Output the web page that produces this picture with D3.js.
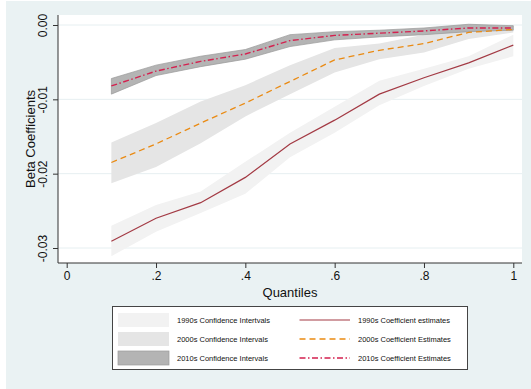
<!DOCTYPE html>
<html>
<head>
<meta charset="utf-8">
<script src="https://cdn.jsdelivr.net/npm/d3@7"></script>
<style>
  html, body { margin: 0; padding: 0; background: #fff; }
  svg { display: block; font-family: "Liberation Sans", Arial, sans-serif; }
</style>
</head>
<body>
<svg id="chart" width="531" height="389"></svg>
<script>
// quantiles
const quantiles = [0.1, 0.2, 0.3, 0.4, 0.5, 0.6, 0.7, 0.8, 0.9, 1.0];

// 1990s
const est1990 = [-0.0291, -0.0260, -0.0239, -0.0205, -0.0160, -0.0128, -0.0093, -0.0071, -0.0051, -0.0027];
const hi1990  = [-0.0270, -0.0242, -0.0224, -0.0184, -0.0145, -0.0110, -0.0075, -0.0059, -0.0042, -0.0013];
const lo1990  = [-0.0311, -0.0278, -0.0253, -0.0227, -0.0178, -0.0145, -0.0108, -0.0082, -0.0059, -0.0042];

// 2000s
const est2000 = [-0.0185, -0.0160, -0.0132, -0.0105, -0.0076, -0.0047, -0.0034, -0.0025, -0.0010, -0.0006];
const hi2000  = [-0.0158, -0.0132, -0.0103, -0.0081, -0.0054, -0.0031, -0.0025, -0.0013, -0.0002, 0.0000];
const lo2000  = [-0.0213, -0.0191, -0.0159, -0.0123, -0.0093, -0.0064, -0.0046, -0.0037, -0.0019, -0.0010];

// 2010s
const est2010 = [-0.0082, -0.0062, -0.0049, -0.0039, -0.0021, -0.0014, -0.0011, -0.0008, -0.0004, -0.0004];
const hi2010  = [-0.0072, -0.0054, -0.0042, -0.0033, -0.0013, -0.0009, -0.0007, -0.0004, 0.0001, -0.0001];
const lo2010  = [-0.0093, -0.0068, -0.0056, -0.0046, -0.0029, -0.0020, -0.0016, -0.0013, -0.0009, -0.0007];

const xTicks = [0, 0.2, 0.4, 0.6, 0.8, 1];
const xTickLabels = ['0', '.2', '.4', '.6', '.8', '1'];
const yTicks = [0, -0.01, -0.02, -0.03];
const yTickLabels = ['0.00', '-0.01', '-0.02', '-0.03'];

const bands = [
  { label: '1990s Confidence Intertvals', hi: hi1990, lo: lo1990, fill: '#f2f2f2', stroke: 'none' },
  { label: '2000s Confidence Intervals', hi: hi2000, lo: lo2000, fill: '#e5e5e5', stroke: 'none' },
  { label: '2010s Confidence Intervals', hi: hi2010, lo: lo2010, fill: '#b4b4b4', stroke: '#9a9a9a' }
];
const lines = [
  { label: '1990s Coefficient estimates', values: est1990, color: '#a33a44', dash: null, width: 1.2 },
  { label: '2000s Coefficient Estimates', values: est2000, color: '#ea8a12', dash: '6,4', width: 1.3 },
  { label: '2010s Coefficient Estimates', values: est2010, color: '#d4214f', dash: '6,2.5,1.5,2.5', width: 1.4 }
];

const svg = d3.select('#chart');
const W = 531, H = 389;
const plot = { left: 58, right: 522, top: 15, bottom: 263 };

// graph region
svg.append('rect')
  .attr('x', 6).attr('y', 1)
  .attr('width', W - 6).attr('height', H - 1)
  .attr('fill', '#eaf2f3');

svg.append('rect')
  .attr('x', plot.left).attr('y', plot.top)
  .attr('width', plot.right - plot.left).attr('height', plot.bottom - plot.top)
  .attr('fill', '#ffffff');

const x = d3.scaleLinear([0, 1], [66.7, 513.3]);
const y = d3.scaleLinear([-0.03, 0], [248, 25]);

// grid
svg.append('g')
  .selectAll('line')
  .data(yTicks)
  .join('line')
    .attr('x1', plot.left).attr('x2', plot.right)
    .attr('y1', d => y(d)).attr('y2', d => y(d))
    .attr('stroke', '#e6eff1')
    .attr('stroke-width', 1);

// CI bands
const area = d3.area()
  .x((d, i) => x(quantiles[i]))
  .y0(d => y(d[0]))
  .y1(d => y(d[1]));

svg.append('g')
  .selectAll('path')
  .data(bands)
  .join('path')
    .attr('d', b => area(b.lo.map((v, i) => [v, b.hi[i]])))
    .attr('fill', b => b.fill)
    .attr('stroke', b => b.stroke)
    .attr('stroke-width', 0.7);

// estimate lines
const line = d3.line()
  .x((d, i) => x(quantiles[i]))
  .y(d => y(d));

svg.append('g')
  .selectAll('path')
  .data(lines)
  .join('path')
    .attr('d', l => line(l.values))
    .attr('fill', 'none')
    .attr('stroke', l => l.color)
    .attr('stroke-width', l => l.width)
    .attr('stroke-dasharray', l => l.dash);

// axes
const xAxis = d3.axisBottom(x)
  .tickValues(xTicks)
  .tickFormat((d, i) => xTickLabels[i])
  .tickSize(5).tickSizeOuter(0).tickPadding(3);

svg.append('g')
  .attr('transform', `translate(0, ${plot.bottom})`)
  .call(xAxis)
  .call(g => g.select('.domain').attr('d', `M${plot.left},0H${plot.right}`).attr('stroke', '#333'))
  .call(g => g.selectAll('.tick line').attr('stroke', '#333'))
  .call(g => g.selectAll('.tick text').attr('font-size', 12).attr('fill', '#111')
    .attr('font-family', '"Liberation Sans", Arial, sans-serif'));

const yAxis = d3.axisLeft(y)
  .tickValues(yTicks)
  .tickFormat((d, i) => yTickLabels[i])
  .tickSize(5).tickSizeOuter(0).tickPadding(4);

svg.append('g')
  .attr('transform', `translate(${plot.left}, 0)`)
  .call(yAxis)
  .call(g => g.select('.domain').attr('d', `M0,${plot.top}V${plot.bottom}`).attr('stroke', '#333'))
  .call(g => g.selectAll('.tick line').attr('stroke', '#333'))
  .call(g => g.selectAll('.tick text')
    .attr('font-size', 12).attr('fill', '#111')
    .attr('font-family', '"Liberation Sans", Arial, sans-serif')
    .attr('text-anchor', 'middle')
    .attr('x', null).attr('dy', null)
    .attr('transform', 'translate(-15, 0) rotate(-90)')
    .attr('dominant-baseline', 'central'));

// axis titles
svg.append('text')
  .attr('transform', `translate(30, ${(plot.top + plot.bottom) / 2}) rotate(-90)`)
  .attr('text-anchor', 'middle')
  .attr('dominant-baseline', 'central')
  .attr('font-size', 13)
  .attr('fill', '#111')
  .text('Beta Coefficients');

svg.append('text')
  .attr('x', 290).attr('y', 292)
  .attr('text-anchor', 'middle')
  .attr('dominant-baseline', 'central')
  .attr('font-size', 13)
  .attr('fill', '#111')
  .text('Quantiles');

// legend
const legend = svg.append('g');
legend.append('rect')
  .attr('x', 112.5).attr('y', 306.5)
  .attr('width', 355).attr('height', 63)
  .attr('fill', '#fff')
  .attr('stroke', '#444')
  .attr('stroke-width', 1);

const rowY = [320, 339, 358];

legend.selectAll('.swatch')
  .data(bands)
  .join('rect')
    .attr('class', 'swatch')
    .attr('x', 118).attr('y', (d, i) => rowY[i] - 7)
    .attr('width', 51).attr('height', 14)
    .attr('fill', d => d.fill)
    .attr('stroke', d => d.stroke)
    .attr('stroke-width', 0.7);

legend.selectAll('.band-label')
  .data(bands)
  .join('text')
    .attr('class', 'band-label')
    .attr('x', 177).attr('y', (d, i) => rowY[i])
    .attr('dominant-baseline', 'central')
    .attr('font-size', 7.5)
    .attr('fill', '#111')
    .text(d => d.label);

legend.selectAll('.key-line')
  .data(lines)
  .join('line')
    .attr('class', 'key-line')
    .attr('x1', 299.5).attr('x2', 350)
    .attr('y1', (d, i) => rowY[i]).attr('y2', (d, i) => rowY[i])
    .attr('stroke', d => d.color)
    .attr('stroke-width', d => d.width)
    .attr('stroke-dasharray', d => d.dash);

legend.selectAll('.line-label')
  .data(lines)
  .join('text')
    .attr('class', 'line-label')
    .attr('x', 358).attr('y', (d, i) => rowY[i])
    .attr('dominant-baseline', 'central')
    .attr('font-size', 7.5)
    .attr('fill', '#111')
    .text(d => d.label);
</script>
</body>
</html>
